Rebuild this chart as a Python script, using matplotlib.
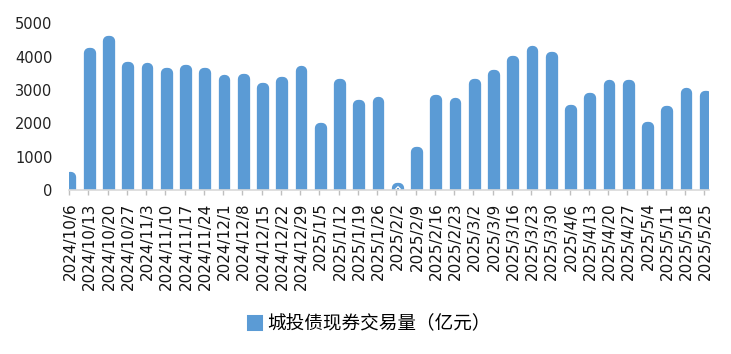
import matplotlib
matplotlib.use("Agg")
import matplotlib.pyplot as plt
from matplotlib.patches import Patch
import numpy as np

# weekly dates
dates = ["2024/10/6", "2024/10/13", "2024/10/20", "2024/10/27", "2024/11/3",
         "2024/11/10", "2024/11/17", "2024/11/24", "2024/12/1", "2024/12/8",
         "2024/12/15", "2024/12/22", "2024/12/29", "2025/1/5", "2025/1/12",
         "2025/1/19", "2025/1/26", "2025/2/2", "2025/2/9", "2025/2/16",
         "2025/2/23", "2025/3/2", "2025/3/9", "2025/3/16", "2025/3/23",
         "2025/3/30", "2025/4/6", "2025/4/13", "2025/4/20", "2025/4/27",
         "2025/5/4", "2025/5/11", "2025/5/18", "2025/5/25"]

# 城投债现券交易量 (亿元)
volume = [400, 4120, 4470, 3690, 3660, 3510, 3600, 3510, 3300, 3330,
          3060, 3240, 3570, 1860, 3180, 2550, 2640, 60, 1140, 2700,
          2610, 3180, 3450, 3870, 4170, 3990, 2400, 2760, 3150, 3150,
          1890, 2370, 2910, 2820]

series_name = "城投债现券交易量（亿元）"
yticks = [0, 1000, 2000, 3000, 4000, 5000]

color = "#5b9bd5"
dpi = 100
fig = plt.figure(figsize=(7.31, 3.54), dpi=dpi)
ax = fig.add_axes([0.0944, 0.4633, 0.8751, 0.4709])

x = np.arange(len(dates))
# thin bar core + thick round-joined edge gives the rounded caps
ax.bar(x, volume, width=0.085, color=color, edgecolor=color,
       linewidth=7.4, joinstyle="round")

ax.set_xlim(-0.08, 33.15)
ax.set_ylim(0, 5000)
ax.set_yticks(yticks)
ax.set_yticklabels([str(v) for v in yticks], fontsize=10.5, color="#222222")
ax.tick_params(axis="y", length=0, pad=12)

ax.set_xticks(x)
ax.set_xticklabels(dates, rotation=90, fontsize=11, color="#111111")
ax.tick_params(axis="x", which="major", length=0, pad=9)
ax.set_xticks(x - 0.08, minor=True)
ax.tick_params(axis="x", which="minor", length=3.8, width=1, color="#bfbfbf",
               direction="out")

for s in ["top", "right", "left"]:
    ax.spines[s].set_visible(False)
ax.spines["bottom"].set_color("#d9d9d9")
ax.spines["bottom"].set_linewidth(1.2)

handle = Patch(facecolor=color, edgecolor=color, linewidth=2.2, joinstyle="round")
fig.legend([handle], [series_name], loc="center",
           bbox_to_anchor=(0.5055, 0.0847), frameon=False,
           prop={"family": ["Noto Sans CJK SC", "DejaVu Sans"], "size": 13.4},
           handlelength=0.7, handleheight=0.64, handletextpad=0.3,
           borderpad=0, borderaxespad=0)

fig.savefig("out.png", dpi=dpi)
